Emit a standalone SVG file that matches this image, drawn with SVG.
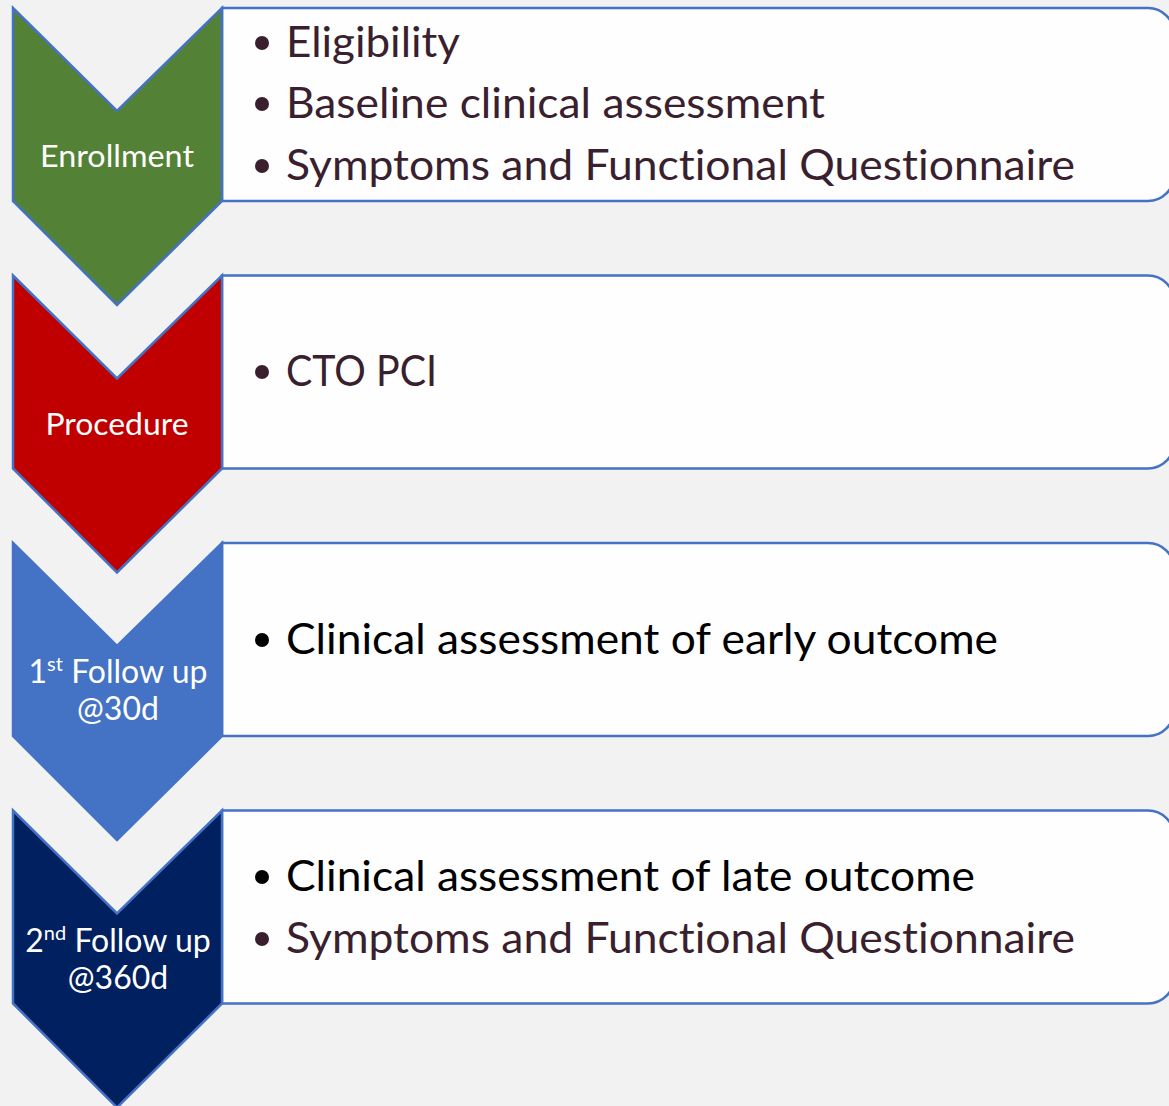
<svg xmlns="http://www.w3.org/2000/svg" width="1169" height="1106" viewBox="0 0 1169 1106">
<style>
text, tspan{font-variant-ligatures:none;font-feature-settings:"liga" 0, "clig" 0, "dlig" 0, "calt" 0}
.box{fill:#FEFEFE;stroke:#4472C4;stroke-width:2.5}
.chev{stroke:#4472C4;stroke-width:2.5;stroke-linejoin:miter}
.lbl{font-family:Lato,"Open Sans",sans-serif;font-size:30px;fill:#FFFFFF;text-anchor:middle}
.lbl2{font-size:32px}
.item{font-family:Lato,"Open Sans",sans-serif;font-size:43px}
.p{fill:#3A1F2F}
.k{fill:#000000}
</style>
<rect width="1169" height="1106" fill="#F2F2F2"/>
<g id="connectors"></g>
<g id="row1">
<path class="box" d="M222,8 H1148 A26,26 0 0 1 1174,34 V175 A26,26 0 0 1 1148,201 H222 Z"/>
<path class="chev" fill="#538135" d="M13,8 L117,111 L222,8 L222,201 L117,305 L13,201 Z"/>
<text class="lbl" x="117" y="167" textLength="154" lengthAdjust="spacingAndGlyphs">Enrollment</text>
<circle class="p" cx="262" cy="43" r="7"/>
<text class="item p" x="286" y="57" textLength="174" lengthAdjust="spacingAndGlyphs">Eligibility</text>
<circle class="p" cx="262" cy="104" r="7"/>
<text class="item p" x="286" y="118" textLength="539" lengthAdjust="spacingAndGlyphs">Baseline clinical assessment</text>
<circle class="p" cx="262" cy="166" r="7"/>
<text class="item p" x="286" y="180" textLength="789" lengthAdjust="spacingAndGlyphs">Symptoms and Functional Questionnaire</text>
</g>
<g id="row2">
<path class="box" d="M222,275.5 H1148 A26,26 0 0 1 1174,301.5 V442.5 A26,26 0 0 1 1148,468.5 H222 Z"/>
<path class="chev" fill="#C00000" d="M13,275.5 L117,378.5 L222,275.5 L222,468.5 L117,572.5 L13,468.5 Z"/>
<text class="lbl" x="117" y="435" textLength="143" lengthAdjust="spacingAndGlyphs">Procedure</text>
<circle class="p" cx="262" cy="372" r="7"/>
<text class="item p" x="286" y="386" textLength="151" lengthAdjust="spacingAndGlyphs">CTO PCI</text>
</g>
<g id="row3">
<path class="box" d="M222,543 H1148 A26,26 0 0 1 1174,569 V710 A26,26 0 0 1 1148,736 H222 Z"/>
<path class="chev" fill="#4472C4" d="M13,543 L117,646 L222,543 L222,736 L117,840 L13,736 Z"/>
<text class="lbl lbl2" x="118" y="683">1<tspan font-size="20" dy="-12">st</tspan><tspan dy="12"> Follow up</tspan></text>
<text class="lbl lbl2" x="118" y="720">@30d</text>
<circle class="k" cx="262" cy="640" r="7"/>
<text class="item k" x="286" y="654" textLength="712" lengthAdjust="spacingAndGlyphs">Clinical assessment of early outcome</text>
</g>
<g id="row4">
<path class="box" d="M222,810.5 H1148 A26,26 0 0 1 1174,836.5 V977.5 A26,26 0 0 1 1148,1003.5 H222 Z"/>
<path class="chev" fill="#002060" d="M13,810.5 L117,913.5 L222,810.5 L222,1003.5 L117,1107.5 L13,1003.5 Z"/>
<text class="lbl lbl2" x="118" y="952">2<tspan font-size="20" dy="-12">nd</tspan><tspan dy="12">  Follow up</tspan></text>
<text class="lbl lbl2" x="118" y="989">@360d</text>
<circle class="k" cx="262" cy="877" r="7"/>
<text class="item k" x="286" y="891" textLength="689" lengthAdjust="spacingAndGlyphs">Clinical assessment of late outcome</text>
<circle class="p" cx="262" cy="939" r="7"/>
<text class="item p" x="286" y="953" textLength="789" lengthAdjust="spacingAndGlyphs">Symptoms and Functional Questionnaire</text>
</g>
</svg>
